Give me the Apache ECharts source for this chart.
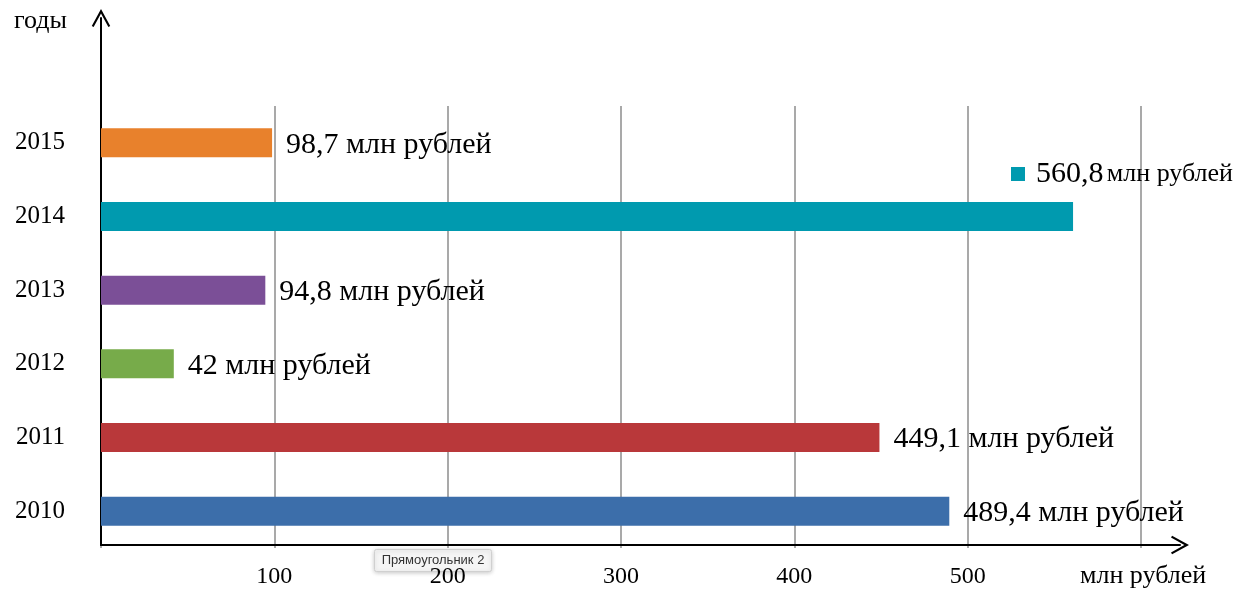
<!DOCTYPE html>
<html>
<head>
<meta charset="utf-8">
<script src="https://cdn.jsdelivr.net/npm/echarts@6/dist/echarts.min.js"></script>
<style>
    html, body { margin: 0; padding: 0; background: #fff; }
    #chart { width: 1243px; height: 589px; }
</style>
</head>
<body>
<div id="chart"></div>
<script>
// данные
const years = ['2010', '2011', '2012', '2013', '2014', '2015'];
const values = [489.4, 449.1, 42, 94.8, 560.8, 98.7];
const xTicks = [100, 200, 300, 400, 500];
const legendYear = '2014';
const unit = 'млн рублей';

const barColors = ['#3c6eaa', '#b9383a', '#77ab4a', '#7b4f97', '#009aaf', '#e8812c'];

(function () {
    const myChart = echarts.init(document.getElementById('chart'));
    const serif = '"Liberation Serif", "Times New Roman", serif';
    const legendIndex = years.indexOf(legendYear);

    function fmt(v) {
        return String(v).replace('.', ',');
    }

    const arrowPath = 'path://M0,11 L6,0 L12,11 L10.8,11.7 L6,3 L1.2,11.7 Z';

    const option = {
        animation: false,
        backgroundColor: '#fff',
        grid: [
            { left: 101, right: 102, top: 106, bottom: 41 },
            { left: 101, right: 63, top: 18, bottom: 44 }
        ],
        legend: {
            data: [fmt(values[legendIndex]) + ' ' + unit],
            left: 1006,
            top: 154,
            icon: 'rect',
            itemWidth: 14,
            itemHeight: 14,
            itemGap: 8,
            formatter: function () {
                return '{a|' + fmt(values[legendIndex]) + '} {b|' + unit + '}';
            },
            textStyle: {
                padding: [0, 0, 0, 6],
                rich: {
                    a: { fontFamily: serif, fontSize: 30, color: '#000' },
                    b: { fontFamily: serif, fontSize: 26, color: '#000' }
                }
            }
        },
        xAxis: [
            {
                type: 'value',
                gridIndex: 0,
                min: 0,
                max: 600,
                interval: 100,
                axisLine: { show: false },
                axisTick: { show: false },
                splitLine: { show: true, lineStyle: { color: '#8c8c8c', width: 1.5 } },
                axisLabel: {
                    margin: 17,
                    fontFamily: serif,
                    fontSize: 24,
                    color: '#000',
                    formatter: function (v) {
                        return xTicks.indexOf(v) >= 0 ? String(v) : '';
                    }
                }
            },
            {
                type: 'value',
                gridIndex: 1,
                min: 0,
                max: 1,
                axisLine: {
                    show: true,
                    symbol: ['none', arrowPath],
                    symbolSize: [22, 18],
                    lineStyle: { color: '#000', width: 2 }
                },
                axisTick: { show: false },
                axisLabel: { show: false },
                splitLine: { show: false }
            }
        ],
        yAxis: [
            {
                type: 'category',
                gridIndex: 0,
                data: years,
                axisLine: { show: false },
                axisTick: { show: false },
                axisLabel: {
                    margin: 36,
                    fontFamily: serif,
                    fontSize: 25,
                    color: '#000'
                }
            },
            {
                type: 'value',
                gridIndex: 1,
                min: 0,
                max: 1,
                axisLine: {
                    show: true,
                    symbol: ['none', arrowPath],
                    symbolSize: [22, 18],
                    lineStyle: { color: '#000', width: 2 }
                },
                axisTick: { show: false },
                axisLabel: { show: false },
                splitLine: { show: false }
            }
        ],
        series: [
            {
                name: 'years',
                type: 'bar',
                xAxisIndex: 0,
                yAxisIndex: 0,
                barWidth: 29,
                barGap: '-100%',
                data: values.map(function (v, i) {
                    if (i === legendIndex) return '-';
                    return { value: v, itemStyle: { color: barColors[i] } };
                }),
                label: {
                    show: true,
                    position: 'right',
                    distance: 14,
                    fontFamily: serif,
                    fontSize: 30,
                    color: '#000',
                    offset: [0, 2],
                    formatter: function (p) {
                        return fmt(p.value) + ' ' + unit;
                    }
                }
            },
            {
                name: fmt(values[legendIndex]) + ' ' + unit,
                type: 'bar',
                xAxisIndex: 0,
                yAxisIndex: 0,
                barWidth: 29,
                barGap: '-100%',
                itemStyle: { color: barColors[legendIndex] },
                data: values.map(function (v, i) {
                    return i === legendIndex ? v : '-';
                })
            }
        ],
        graphic: [
            {
                type: 'text',
                left: 14,
                top: 8,
                style: { text: 'годы', font: '26px ' + serif, fill: '#000' }
            },
            {
                type: 'text',
                left: 1080,
                top: 563,
                style: { text: unit, font: '26px ' + serif, fill: '#000' }
            },
            {
                type: 'group',
                left: 374,
                top: 549,
                children: [
                    {
                        type: 'rect',
                        shape: { x: 0, y: 0, width: 117, height: 22, r: 2 },
                        style: {
                            fill: '#f5f5f5',
                            stroke: '#d0d0d0',
                            lineWidth: 1,
                            shadowBlur: 4,
                            shadowColor: 'rgba(0,0,0,0.2)',
                            shadowOffsetY: 1
                        }
                    },
                    {
                        type: 'text',
                        x: 58.5,
                        y: 11,
                        style: {
                            text: 'Прямоугольник 2',
                            font: '13px "Liberation Sans", Arial, sans-serif',
                            fill: '#333',
                            align: 'center',
                            verticalAlign: 'middle'
                        }
                    }
                ]
            }
        ]
    };

    myChart.setOption(option);

    window.addEventListener('resize', function () {
        myChart.resize();
    });
})();
</script>
</body>
</html>
